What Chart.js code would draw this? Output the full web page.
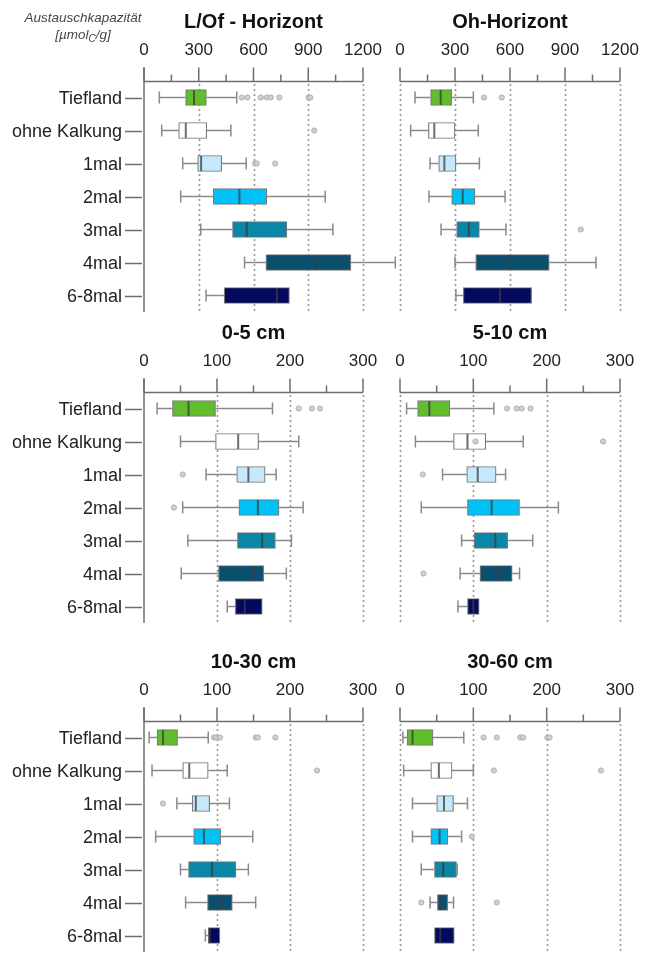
<!DOCTYPE html>
<html><head><meta charset="utf-8">
<script src="https://cdn.jsdelivr.net/npm/chart.js@4/dist/chart.umd.min.js"></script>
<style>
html,body{margin:0;padding:0;background:#fff;overflow:hidden;width:652px;height:956px;}
.wrap{position:absolute;}
</style></head><body>
<div class="wrap" style="left:0;top:0;width:410px;height:316px"><canvas id="c1"></canvas></div>
<div class="wrap" style="left:390px;top:0;width:262px;height:316px"><canvas id="c2"></canvas></div>
<div class="wrap" style="left:0;top:311px;width:410px;height:316px"><canvas id="c3"></canvas></div>
<div class="wrap" style="left:390px;top:311px;width:262px;height:316px"><canvas id="c4"></canvas></div>
<div class="wrap" style="left:0;top:640px;width:410px;height:316px"><canvas id="c5"></canvas></div>
<div class="wrap" style="left:390px;top:640px;width:262px;height:316px"><canvas id="c6"></canvas></div>
<script>
// ---------- data ----------
const categories = ['Tiefland','ohne Kalkung','1mal','2mal','3mal','4mal','6-8mal'];
const boxColors = ['#62bd2c','#ffffff','#c6e8fb','#00c2f6','#0a86a7','#0b4f6f','#030a5e'];
const panelTitles = ['L/Of - Horizont','Oh-Horizont','0-5 cm','5-10 cm','10-30 cm','30-60 cm'];
const axisLabelLine1 = 'Austauschkapazität';
const axisLabelLine2 = ['[µmol','C','/g]'];

const ticksHumus = [0,300,600,900,1200];
const ticksMineral = [0,100,200,300];

// L/Of - Horizont
const lofLow = [84, 97, 212, 201, 311, 551, 340];
const lofQ1  = [228, 190, 294, 380, 485, 668, 439];
const lofMed = [274, 229, 313, 523, 563, 942, 728];
const lofQ3  = [342, 344, 426, 673, 783, 1134, 797];
const lofHigh= [508, 476, 560, 993, 1035, 1377, 797];
const lofOut = [[536,567,640,673,695,742,902,911],[933],[609,618,719],[],[],[],[]];
// Oh-Horizont
const ohLow = [82, 58, 164, 158, 224, 300, 305];
const ohQ1  = [167, 155, 211, 282, 309, 413, 345];
const ohMed = [222, 187, 242, 342, 375, 591, 545];
const ohQ3  = [282, 300, 305, 409, 433, 814, 718];
const ohHigh= [400, 427, 433, 573, 578, 1069, 718];
const ohOut = [[458,555],[],[],[],[986],[],[]];
// 0-5 cm
const d05Low = [18, 50, 85, 53, 60, 51, 114];
const d05Q1  = [39, 98, 127, 130, 128, 102, 125];
const d05Med = [61, 129, 143, 156, 162, 151, 138];
const d05Q3  = [98, 157, 166, 185, 180, 164, 162];
const d05High= [176, 212, 181, 218, 202, 195, 162];
const d05Out = [[212,230,241],[],[53],[41],[],[],[]];
// 5-10 cm
const d510Low = [9, 21, 58, 29, 84, 82, 79];
const d510Q1  = [24, 73, 91, 92, 101, 109, 92];
const d510Med = [40, 92, 106, 125, 130, 135, 100];
const d510Q3  = [68, 117, 131, 163, 147, 153, 108];
const d510High= [128, 168, 144, 216, 181, 163, 108];
const d510Out = [[146,159,166,178],[103,277],[31],[],[],[32],[]];
// 10-30 cm
const d1030Low = [7, 11, 45, 16, 50, 57, 84];
const d1030Q1  = [18, 53, 66, 68, 61, 87, 88];
const d1030Med = [26, 62, 71, 82, 93, 106, 90];
const d1030Q3  = [46, 88, 90, 105, 126, 121, 104];
const d1030High= [88, 114, 117, 149, 143, 153, 104];
const d1030Out = [[96,99,104,153,156,180],[237],[26],[],[],[],[]];
// 30-60 cm
const d3060Low = [4, 5, 17, 17, 29, 41, 47];
const d3060Q1  = [10, 42, 50, 42, 47, 51, 47];
const d3060Med = [17, 53, 60, 54, 59, 55, 55];
const d3060Q3  = [45, 71, 73, 65, 77, 65, 74];
const d3060High= [87, 100, 92, 84, 78, 73, 74];
const d3060Out = [[114,132,164,168,201,204],[128,274],[],[98],[],[29,132],[]];

// ---------- drawing ----------
const FONT = '"Liberation Sans", Arial, Helvetica, sans-serif';
Chart.defaults.font.family = FONT;
Chart.defaults.color = '#222';

const boxPlugin = {
  id: 'boxplot',
  beforeDatasetsDraw(chart, args, o) {
    const {ctx, chartArea: a, scales: {x, y}} = chart;
    ctx.save();
    ctx.strokeStyle = '#969696'; ctx.lineWidth = 1.6; ctx.setLineDash([2, 3]);
    o.ticks.forEach(v => {
      if (o.left && v === 0) return;
      const px = Math.round(x.getPixelForValue(v)) + 0.5;
      ctx.beginPath(); ctx.moveTo(px, a.top + 3); ctx.lineTo(px, a.bottom); ctx.stroke();
    });
    ctx.setLineDash([]);
    ctx.strokeStyle = '#8a8a8a'; ctx.lineWidth = 1.5;
    o.low.forEach((lv, i) => {
      const yc = y.getPixelForValue(i);
      const xl = x.getPixelForValue(lv), x1 = x.getPixelForValue(o.q1[i]);
      const x3 = x.getPixelForValue(o.q3[i]), xh = x.getPixelForValue(o.high[i]);
      ctx.beginPath();
      if (lv < o.q1[i]) { ctx.moveTo(xl, yc); ctx.lineTo(x1, yc); ctx.moveTo(xl, yc - 6); ctx.lineTo(xl, yc + 6); }
      if (o.high[i] > o.q3[i]) { ctx.moveTo(x3, yc); ctx.lineTo(xh, yc); ctx.moveTo(xh, yc - 6); ctx.lineTo(xh, yc + 6); }
      ctx.stroke();
    });
    ctx.restore();
  },
  afterDatasetsDraw(chart, args, o) {
    const {ctx, scales: {x, y}} = chart;
    ctx.save();
    ctx.strokeStyle = 'rgba(60,60,60,0.75)'; ctx.lineWidth = 2;
    o.med.forEach((m, i) => {
      const yc = y.getPixelForValue(i), px = x.getPixelForValue(m);
      ctx.beginPath(); ctx.moveTo(px, yc - 7.5); ctx.lineTo(px, yc + 7.5); ctx.stroke();
    });
    ctx.fillStyle = '#d0d0d0'; ctx.strokeStyle = '#b0b0b0'; ctx.lineWidth = 1;
    o.out.forEach((arr, i) => {
      const yc = y.getPixelForValue(i);
      arr.forEach(v => {
        ctx.beginPath(); ctx.arc(x.getPixelForValue(v), yc, 2.6, 0, Math.PI * 2); ctx.fill(); ctx.stroke();
      });
    });
    ctx.restore();
  },
  afterDraw(chart, args, o) {
    const {ctx, chartArea: a, scales: {x, y}} = chart;
    ctx.save();
    ctx.strokeStyle = '#6e6e6e'; ctx.lineWidth = 1.5;
    const x0 = x.getPixelForValue(0), xm = x.getPixelForValue(x.max);
    const ay = Math.round(a.top) + 0.5;
    ctx.beginPath(); ctx.moveTo(x0, ay); ctx.lineTo(xm, ay); ctx.stroke();
    const step = o.ticks[1] - o.ticks[0];
    for (let v = 0; v <= x.max + 1e-9; v += step / 2) {
      const major = Math.abs(v / step - Math.round(v / step)) < 1e-6;
      const px = x.getPixelForValue(v);
      ctx.beginPath(); ctx.moveTo(px, ay); ctx.lineTo(px, ay - (major ? 14 : 7)); ctx.stroke();
    }
    if (o.left) {
      ctx.beginPath(); ctx.moveTo(x0, ay - 14); ctx.lineTo(x0, a.bottom); ctx.stroke();
      categories.forEach((c, i) => {
        const yc = Math.round(y.getPixelForValue(i)) + 0.5;
        ctx.beginPath(); ctx.moveTo(x0 - 19, yc); ctx.lineTo(x0 - 2, yc); ctx.stroke();
      });
    }
    if (o.axisLabel) {
      ctx.fillStyle = '#444';
      ctx.textAlign = 'center'; ctx.textBaseline = 'middle';
      ctx.font = 'italic 13.5px ' + FONT;
      const cx = 83;
      ctx.fillText(axisLabelLine1, cx, 18);
      const big = 'italic 13.5px ' + FONT, small = 'italic 10px ' + FONT;
      ctx.font = big; const w1 = ctx.measureText(axisLabelLine2[0]).width, w3 = ctx.measureText(axisLabelLine2[2]).width;
      ctx.font = small; const w2 = ctx.measureText(axisLabelLine2[1]).width;
      let sx = cx - (w1 + w2 + w3) / 2;
      ctx.textAlign = 'left';
      ctx.font = big; ctx.fillText(axisLabelLine2[0], sx, 35); sx += w1;
      ctx.font = small; ctx.fillText(axisLabelLine2[1], sx, 39); sx += w2;
      ctx.font = big; ctx.fillText(axisLabelLine2[2], sx, 35);
    }
    ctx.restore();
  }
};

function makePanel(id, title, ticks, low, q1, med, q3, high, out, left, axisLabel) {
  const max = ticks[ticks.length - 1];
  new Chart(document.getElementById(id), {
    type: 'bar',
    data: {
      labels: categories,
      datasets: [{
        data: q1.map((v, i) => [v, q3[i]]),
        backgroundColor: boxColors,
        borderColor: '#7a7a7a',
        borderWidth: 1.2,
        borderSkipped: false,
        barThickness: 16
      }]
    },
    options: {
      indexAxis: 'y',
      responsive: true,
      maintainAspectRatio: false,
      animation: false,
      events: [],
      layout: { padding: { left: left ? 0 : 10, right: left ? 47 : 32, top: 0, bottom: 4 } },
      plugins: {
        legend: { display: false },
        tooltip: { enabled: false },
        title: {
          display: true, text: title, fullSize: false,
          font: { size: 20, weight: 'bold' }, color: '#111',
          padding: { top: 10, bottom: 0 }
        },
        boxplot: { ticks, low, q1, med, q3, high, out, left, axisLabel }
      },
      scales: {
        x: {
          type: 'linear', position: 'top', min: 0, max: max,
          afterBuildTicks: s => { s.ticks = ticks.map(v => ({ value: v })); },
          ticks: { font: { size: 17 }, color: '#222', padding: 20, maxRotation: 0, autoSkip: false,
                   callback: v => String(v) },
          grid: { display: false, drawTicks: false },
          border: { display: false },
          afterFit: s => { s.height = 47; s.paddingLeft = 0; s.paddingRight = 0; s.paddingTop = 0; s.paddingBottom = 0; }
        },
        y: {
          type: 'category', display: left, offset: true,
          ticks: { font: { size: 18 }, color: '#222', padding: 22, labelOffset: 1.5 },
          grid: { display: false, drawTicks: false },
          border: { display: false },
          afterFit: s => { s.width = left ? 144 : 0; s.paddingLeft = 0; s.paddingRight = 0; s.paddingTop = 0; s.paddingBottom = 0; }
        }
      }
    },
    plugins: [boxPlugin]
  });
}

makePanel('c1', panelTitles[0], ticksHumus, lofLow, lofQ1, lofMed, lofQ3, lofHigh, lofOut, true, true);
makePanel('c2', panelTitles[1], ticksHumus, ohLow, ohQ1, ohMed, ohQ3, ohHigh, ohOut, false, false);
makePanel('c3', panelTitles[2], ticksMineral, d05Low, d05Q1, d05Med, d05Q3, d05High, d05Out, true, false);
makePanel('c4', panelTitles[3], ticksMineral, d510Low, d510Q1, d510Med, d510Q3, d510High, d510Out, false, false);
makePanel('c5', panelTitles[4], ticksMineral, d1030Low, d1030Q1, d1030Med, d1030Q3, d1030High, d1030Out, true, false);
makePanel('c6', panelTitles[5], ticksMineral, d3060Low, d3060Q1, d3060Med, d3060Q3, d3060High, d3060Out, false, false);
</script>
</body></html>
